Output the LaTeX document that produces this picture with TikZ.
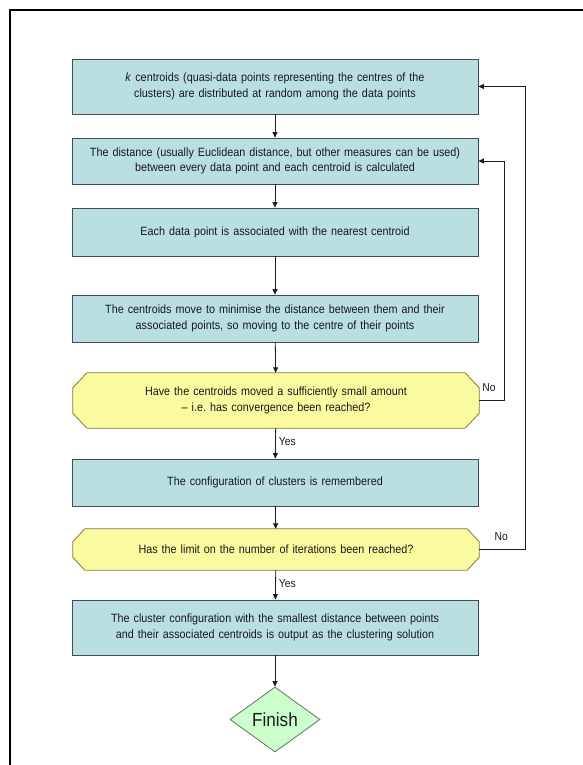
\documentclass[tikz,border=0pt]{standalone}
\usepackage{fontspec}
\setmainfont{Liberation Sans}[FakeStretch=0.9]
\usetikzlibrary{arrows.meta,calc,shapes.geometric,backgrounds}
\definecolor{boxfill}{RGB}{185,223,226}
\definecolor{boxline}{RGB}{70,75,78}
\definecolor{decfill}{RGB}{252,250,160}
\definecolor{decline}{RGB}{125,122,60}
\definecolor{finfill}{RGB}{204,255,204}
\definecolor{finline}{RGB}{95,120,95}
\definecolor{textc}{RGB}{25,25,25}
\definecolor{arrowc}{RGB}{30,30,30}
\newcommand\chamf[3]{%
  \fill[decfill,draw=decline,line width=0.8pt]
    ($(#1.north west)+(#2,0)$) -- ($(#1.north east)+(-#2,0)$) --
    ($(#1.north east)+(0,#3)$) -- ($(#1.south east)+(0,-#3)$) --
    ($(#1.south east)+(-#2,0)$) -- ($(#1.south west)+(#2,0)$) --
    ($(#1.south west)+(0,-#3)$) -- ($(#1.north west)+(0,#3)$) -- cycle;}
\frenchspacing
\begin{document}
\begin{tikzpicture}[x=1pt,y=-1pt,
  txt/.style={font=\fontsize{12}{15.5}\selectfont, text=textc},
  procbox/.style={txt, draw=boxline, fill=boxfill, line width=0.8pt,
    minimum width=406pt, text width=400pt, align=center, inner sep=0pt},
  decbox/.style={txt, rectangle, minimum width=406pt, text width=380pt,
    align=center, inner sep=0pt},
  lbl/.style={font=\fontsize{11.5}{13}\selectfont, text=textc, inner sep=0pt},
  arr/.style={-{Triangle[length=5.5pt,width=5pt]}, line width=0.8pt, draw=arrowc}]
\useasboundingbox (0,0) rectangle (582,765);
\draw[line width=2pt, black] (10,766) -- (10,10) -- (583,10);

\node[procbox, minimum height=55pt] (b1) at (275,86.5)
  {\textit{k} centroids (quasi-data points representing the centres of the\\ clusters) are distributed at random among the data points};
\node[procbox, minimum height=46pt] (b2) at (275,161)
  {The distance (usually Euclidean distance, but other measures can be used)\\ between every data point and each centroid is calculated};
\node[procbox, minimum height=48pt] (b3) at (275,232)
  {Each data point is associated with the nearest centroid};
\node[procbox, minimum height=47pt] (b4) at (275,318.5)
  {The centroids move to minimise the distance between them and their\\ associated points, so moving to the centre of their points};
\node[decbox, minimum height=55pt] (d1) at (276,400.5)
  {Have the centroids moved a sufficiently small amount\\ -- i.e.\ has convergence been reached?};
\node[procbox, minimum height=47pt] (b5) at (275,482.5)
  {The configuration of clusters is remembered};
\node[decbox, minimum height=41pt] (d2) at (276,549.5)
  {Has the limit on the number of iterations been reached?};
\node[procbox, minimum height=55pt] (b6) at (275,627.5)
  {The cluster configuration with the smallest distance between points\\ and their associated centroids is output as the clustering solution};
\node[diamond, draw=finline, fill=finfill, line width=0.8pt, minimum width=90pt,
  minimum height=65pt, inner sep=0pt, font=\fontsize{19}{22}\selectfont, text=textc]
  (fin) at (275,719.5) {Finish};

\begin{scope}[on background layer]
  \fill[white] (0,0) rectangle (582,765);
  \chamf{d1}{14}{15}
  \chamf{d2}{12}{13}
\end{scope}

\coordinate (r1) at (504,0);
\coordinate (r2) at (525,0);

\draw[arr] (b1) -- (b2);
\draw[arr] (b2) -- (b3);
\draw[arr] (b3) -- (b4);
\draw[arr] (b4) -- (d1);
\draw[arr] (d1) -- node[lbl, right=3pt, pos=0.45] {Yes} (b5);
\draw[arr] (b5) -- (d2);
\draw[arr] (d2) -- node[lbl, right=3pt, pos=0.45] {Yes} (b6);
\draw[arr] (b6) -- (fin);

\draw[arr] (d1.east) -- (d1.east -| r1) -- (r1 |- b2.east) -- (b2.east);
\draw[arr] (d2.east) -- (d2.east -| r2) -- (r2 |- b1.east) -- (b1.east);
\node[lbl, anchor=south west] (no1) at ($(d1.east)+(3,-9)$) {No};
\node[lbl, anchor=south] (no2) at ($(d2.east)+(22,-9)$) {No};
\end{tikzpicture}
\end{document}
